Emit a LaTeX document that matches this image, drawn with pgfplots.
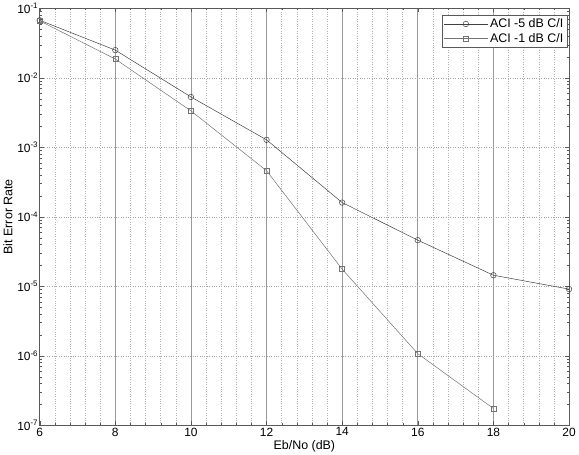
\documentclass[border=0pt]{standalone}
\usepackage{pgfplots}
\pgfplotsset{compat=1.18}
\usepackage{fontspec}
\setmainfont{Liberation Sans}
\begin{document}
\begin{tikzpicture}
\begin{axis}[
  scale only axis,
  width=532pt, height=419pt,
  ymode=log,
  xmin=6, xmax=20, ymin=1e-7, ymax=1e-1,
  xtick={6,8,...,20},
  minor x tick num=4,
  ytick={1e-7,1e-6,1e-5,1e-4,1e-3,1e-2,1e-1},
  yticklabels={10\textsuperscript{-7},10\textsuperscript{-6},10\textsuperscript{-5},10\textsuperscript{-4},10\textsuperscript{-3},10\textsuperscript{-2},10\textsuperscript{-1}},
  /pgf/number format/assume math mode=true,
  tick align=inside,
  major tick length=4pt, minor tick length=2pt,
  xmajorgrids, xminorgrids, ymajorgrids,
  major x grid style={solid, gray!80, line width=0.8pt},
  minor x grid style={dotted, gray!60},
  major y grid style={dotted, gray!70},
  axis line style={gray!70!black},
  tick style={gray!70!black},
  every tick label/.style={font=\fontsize{12}{12}\selectfont},
  xticklabel style={yshift=1pt},
  yticklabel style={xshift=2pt},
  xlabel={Eb/No (dB)}, ylabel={Bit Error Rate},
  label style={font=\fontsize{12.5}{13}\selectfont},
  xlabel style={yshift=3pt},
  ylabel style={yshift=-2pt},
  legend pos=north east,
  legend style={font=\fontsize{12.5}{13}\selectfont, draw=gray!70!black, inner sep=2pt, row sep=0pt, at={(0.997,0.985)}},
  legend image code/.code={\draw[mark repeat=2,mark phase=2] plot coordinates {(0pt,0pt) (22pt,0pt) (44pt,0pt)};},
  legend cell align=left,
]
\addplot[color=black!75, line width=0.5pt, mark=o, mark size=2.8pt, mark options={solid, fill=none}] coordinates {
 (6,0.0673) (8,0.025) (10,0.0053) (12,0.00128) (14,1.6e-4) (16,4.6e-5) (18,1.44e-5) (20,9.1e-6)
};
\addlegendentry{ACI -5 dB C/I}
\addplot[color=black!55, line width=0.5pt, mark=square, mark size=2.5pt, mark options={solid, fill=none}] coordinates {
 (6,0.066) (8,0.0186) (10,0.00334) (12,4.6e-4) (14,1.76e-5) (16,1.07e-6) (18,1.74e-7)
};
\addlegendentry{ACI -1 dB C/I}
\end{axis}
\end{tikzpicture}
\end{document}
